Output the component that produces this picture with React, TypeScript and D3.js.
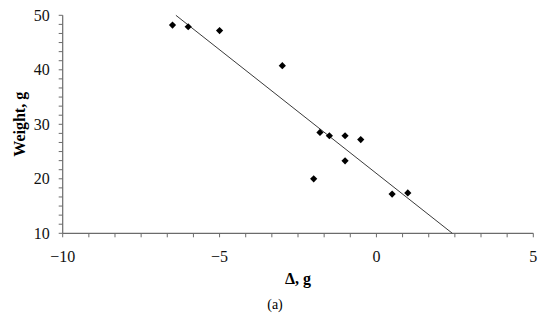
import { useEffect, useRef } from 'react';
import * as d3 from 'd3';

// delta (g) and weight (g)
const deltaValues = [-6.5, -6, -5, -3, -1.8, -1.5, -1, -0.5, -1, -2, 0.5, 1];
const weightValues = [48.2, 47.9, 47.2, 40.75, 28.5, 27.9, 27.9, 27.2, 23.3, 20.0, 17.2, 17.4];
const xTicks = [-10, -5, 0, 5];
const yTicks = [10, 20, 30, 40, 50];

const W = 550;
const H = 320;
const m = { left: 62.7, right: 533.3, top: 15.3, bottom: 233.3 };

function App() {
  const ref = useRef<SVGSVGElement>(null);

  useEffect(() => {
    const svg = d3.select(ref.current);
    svg.selectAll('*').remove();

    const x = d3.scaleLinear().domain([-10, 5]).range([m.left, m.right]);
    const y = d3.scaleLinear().domain([10, 50]).range([m.bottom, m.top]);
    const axisColor = '#6b6b6b';
    const font = '"Liberation Serif", "Times New Roman", serif';

    // minor ticks: 6 per major step, like the excel chart
    const xMinor = d3.range(0, 19).map((i) => -10 + (i * 5) / 6);
    const yMinor = d3.range(0, 25).map((i) => 10 + (i * 10) / 6);

    const axes = svg.append('g');
    axes.append('line')
      .attr('x1', x(-10)).attr('x2', x(5))
      .attr('y1', y(10)).attr('y2', y(10))
      .attr('stroke', axisColor).attr('stroke-width', 1.2);
    axes.append('line')
      .attr('x1', x(-10)).attr('x2', x(-10))
      .attr('y1', y(10)).attr('y2', y(50))
      .attr('stroke', axisColor).attr('stroke-width', 1.2);

    axes.selectAll('.xt')
      .data(xMinor)
      .enter()
      .append('line')
      .attr('x1', (d) => x(d)).attr('x2', (d) => x(d))
      .attr('y1', y(10)).attr('y2', y(10) + 4)
      .attr('stroke', axisColor).attr('stroke-width', 1);
    axes.selectAll('.yt')
      .data(yMinor)
      .enter()
      .append('line')
      .attr('x1', x(-10) - 4).attr('x2', x(-10))
      .attr('y1', (d) => y(d)).attr('y2', (d) => y(d))
      .attr('stroke', axisColor).attr('stroke-width', 1);

    svg.selectAll('.xl')
      .data(xTicks)
      .enter()
      .append('text')
      .attr('x', (d) => x(d))
      .attr('y', y(10) + 29)
      .attr('text-anchor', 'middle')
      .attr('font-family', font)
      .attr('font-size', 16)
      .attr('fill', '#111')
      .text((d) => (d < 0 ? '\u2212' + Math.abs(d) : String(d)));
    svg.selectAll('.yl')
      .data(yTicks)
      .enter()
      .append('text')
      .attr('x', x(-10) - 13)
      .attr('y', (d) => y(d) + 5.5)
      .attr('text-anchor', 'end')
      .attr('font-family', font)
      .attr('font-size', 16)
      .attr('fill', '#111')
      .text((d) => d);

    // least squares trend line, clipped to the plot box
    const pts = deltaValues.map((d, i) => [d, weightValues[i]]);
    const mx = d3.mean(deltaValues) as number;
    const my = d3.mean(weightValues) as number;
    const sxy = d3.sum(pts, (p) => (p[0] - mx) * (p[1] - my));
    const sxx = d3.sum(pts, (p) => (p[0] - mx) ** 2);
    const slope = sxy / sxx;
    const icpt = my - slope * mx;
    const xStart = (50 - icpt) / slope;
    const xEnd = (10 - icpt) / slope;
    svg.append('line')
      .attr('x1', x(xStart)).attr('y1', y(50))
      .attr('x2', x(xEnd)).attr('y2', y(10))
      .attr('stroke', '#3a3a3a')
      .attr('stroke-width', 1);

    const diamond = d3.symbol().type(d3.symbolSquare).size(26);
    svg.selectAll('.pt')
      .data(pts)
      .enter()
      .append('path')
      .attr('d', diamond)
      .attr('transform', (d) => `translate(${x(d[0])},${y(d[1])}) rotate(45)`)
      .attr('fill', '#000');

    svg.append('text')
      .attr('x', (m.left + m.right) / 2)
      .attr('y', 284)
      .attr('text-anchor', 'middle')
      .attr('font-family', font)
      .attr('font-weight', 'bold')
      .attr('font-size', 16)
      .text('\u0394, g');
    svg.append('text')
      .attr('transform', `translate(25,${(m.top + m.bottom) / 2}) rotate(-90)`)
      .attr('text-anchor', 'middle')
      .attr('font-family', font)
      .attr('font-weight', 'bold')
      .attr('font-size', 16)
      .text('Weight, g');
    svg.append('text')
      .attr('x', W / 2)
      .attr('y', 309)
      .attr('text-anchor', 'middle')
      .attr('font-family', font)
      .attr('font-size', 14)
      .text('(a)');
  }, []);

  return (
    <svg
      ref={ref}
      width={W}
      height={H}
      style={{ position: 'absolute', left: 0, top: 0, background: '#fff' }}
    />
  );
}

export default App;
